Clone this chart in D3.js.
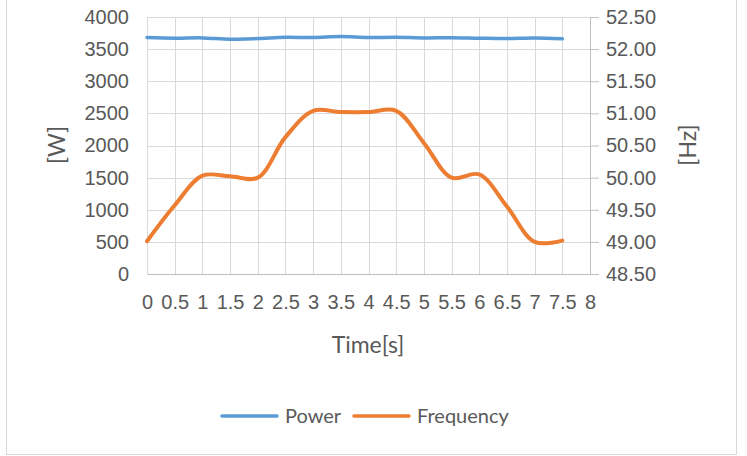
<!DOCTYPE html>
<html lang="en">
<head>
<meta charset="UTF-8">
<title>Power and Frequency</title>
<script src="https://d3js.org/d3.v7.min.js"></script>
<style>
  body { margin: 0; background: #fff; }
  svg { display: block; font-family: Lato, "Open Sans", Arial, sans-serif; }
  .tick text { fill: #595959; }
</style>
</head>
<body>
<svg width="747" height="456"></svg>
<script>
const time = [0, 0.5, 1, 1.5, 2, 2.5, 3, 3.5, 4, 4.5, 5, 5.5, 6, 6.5, 7, 7.5];
const power = [3680, 3670, 3675, 3655, 3665, 3685, 3680, 3695, 3680, 3685, 3675, 3678, 3670, 3665, 3675, 3660];
const frequency = [49.01, 49.57, 50.03, 50.02, 50.00, 50.63, 51.04, 51.02, 51.02, 51.04, 50.54, 50.00, 50.05, 49.55, 49.00, 49.02];
const xTicks = [0, 0.5, 1, 1.5, 2, 2.5, 3, 3.5, 4, 4.5, 5, 5.5, 6, 6.5, 7, 7.5, 8];
const wTicks = [0, 500, 1000, 1500, 2000, 2500, 3000, 3500, 4000];
const hzTicks = [48.5, 49, 49.5, 50, 50.5, 51, 51.5, 52, 52.5];

const svg = d3.select("svg");
const plot = { left: 147, right: 590, top: 17, bottom: 274 };

// chart border
svg.append("rect")
    .attr("x", 6.5).attr("y", -2)
    .attr("width", 730).attr("height", 456.5)
    .attr("fill", "none").attr("stroke", "#d9d9d9");

const x = d3.scaleLinear().domain([0, 8]).range([plot.left, plot.right]);
const yW = d3.scaleLinear().domain([0, 4000]).range([plot.bottom, plot.top]);
const yHz = d3.scaleLinear().domain([48.5, 52.5]).range([plot.bottom, plot.top]);

// gridlines
const grid = svg.append("g").attr("stroke", "#d9d9d9").attr("stroke-width", 1);
grid.selectAll(".h").data(wTicks).join("line").attr("class", "h")
    .attr("x1", plot.left).attr("x2", plot.right)
    .attr("y1", d => Math.round(yW(d)) + 0.5).attr("y2", d => Math.round(yW(d)) + 0.5);
grid.selectAll(".v").data(xTicks).join("line").attr("class", "v")
    .attr("y1", plot.top).attr("y2", plot.bottom)
    .attr("x1", d => Math.round(x(d)) + 0.5).attr("x2", d => Math.round(x(d)) + 0.5);

// axes
const xAxis = svg.append("g")
    .attr("transform", `translate(0,${plot.bottom})`)
    .call(d3.axisBottom(x).tickValues(xTicks).tickSize(0).tickPadding(21).tickFormat(d3.format("")));
xAxis.select(".domain").attr("stroke", "#bfbfbf");
xAxis.selectAll(".tick text").attr("font-size", 20);

const lAxis = svg.append("g")
    .attr("transform", `translate(${plot.left},0)`)
    .call(d3.axisLeft(yW).tickValues(wTicks).tickSize(0).tickPadding(18).tickFormat(d3.format("")));
lAxis.select(".domain").remove();
lAxis.selectAll(".tick text").attr("font-size", 20);

const rAxis = svg.append("g")
    .attr("transform", `translate(${plot.right},0)`)
    .call(d3.axisRight(yHz).tickValues(hzTicks).tickSizeInner(9).tickSizeOuter(0).tickPadding(7).tickFormat(d3.format(".2f")));
rAxis.selectAll("line, .domain").attr("stroke", "#bfbfbf");
rAxis.selectAll(".tick text").attr("font-size", 20);

// titles
svg.append("text").attr("x", 368).attr("y", 353).attr("text-anchor", "middle")
    .attr("font-size", 23).attr("fill", "#595959").text("Time[s]");
svg.append("text").attr("transform", "translate(65,145) rotate(-90)").attr("text-anchor", "middle")
    .attr("font-size", 23).attr("fill", "#595959").text("[W]");
svg.append("text").attr("transform", "translate(696,145) rotate(-90)").attr("text-anchor", "middle")
    .attr("font-size", 23).attr("fill", "#595959").text("[Hz]");

// lines
const powerLine = d3.line().x((d, i) => x(time[i])).y(d => yW(d)).curve(d3.curveCatmullRom.alpha(0.5));
const freqLine = d3.line().x((d, i) => x(time[i])).y(d => yHz(d)).curve(d3.curveCatmullRom.alpha(0.5));

svg.append("path").datum(power).attr("d", powerLine)
    .attr("fill", "none").attr("stroke", "#5b9bd5").attr("stroke-width", 3.5).attr("stroke-linecap", "round");
svg.append("path").datum(frequency).attr("d", freqLine)
    .attr("fill", "none").attr("stroke", "#ed7d31").attr("stroke-width", 4).attr("stroke-linecap", "round");

// legend
const legend = [
    { name: "Power", color: "#5b9bd5", x: 222 },
    { name: "Frequency", color: "#ed7d31", x: 354 }
];
const lg = svg.append("g").selectAll("g").data(legend).join("g")
    .attr("transform", d => `translate(${d.x},416)`);
lg.append("line").attr("x1", 0).attr("x2", 55)
    .attr("stroke", d => d.color).attr("stroke-width", 3.5).attr("stroke-linecap", "round");
lg.append("text").attr("x", 63).attr("dy", "0.35em")
    .attr("font-size", 20).attr("fill", "#595959").text(d => d.name);
</script>
</body>
</html>
